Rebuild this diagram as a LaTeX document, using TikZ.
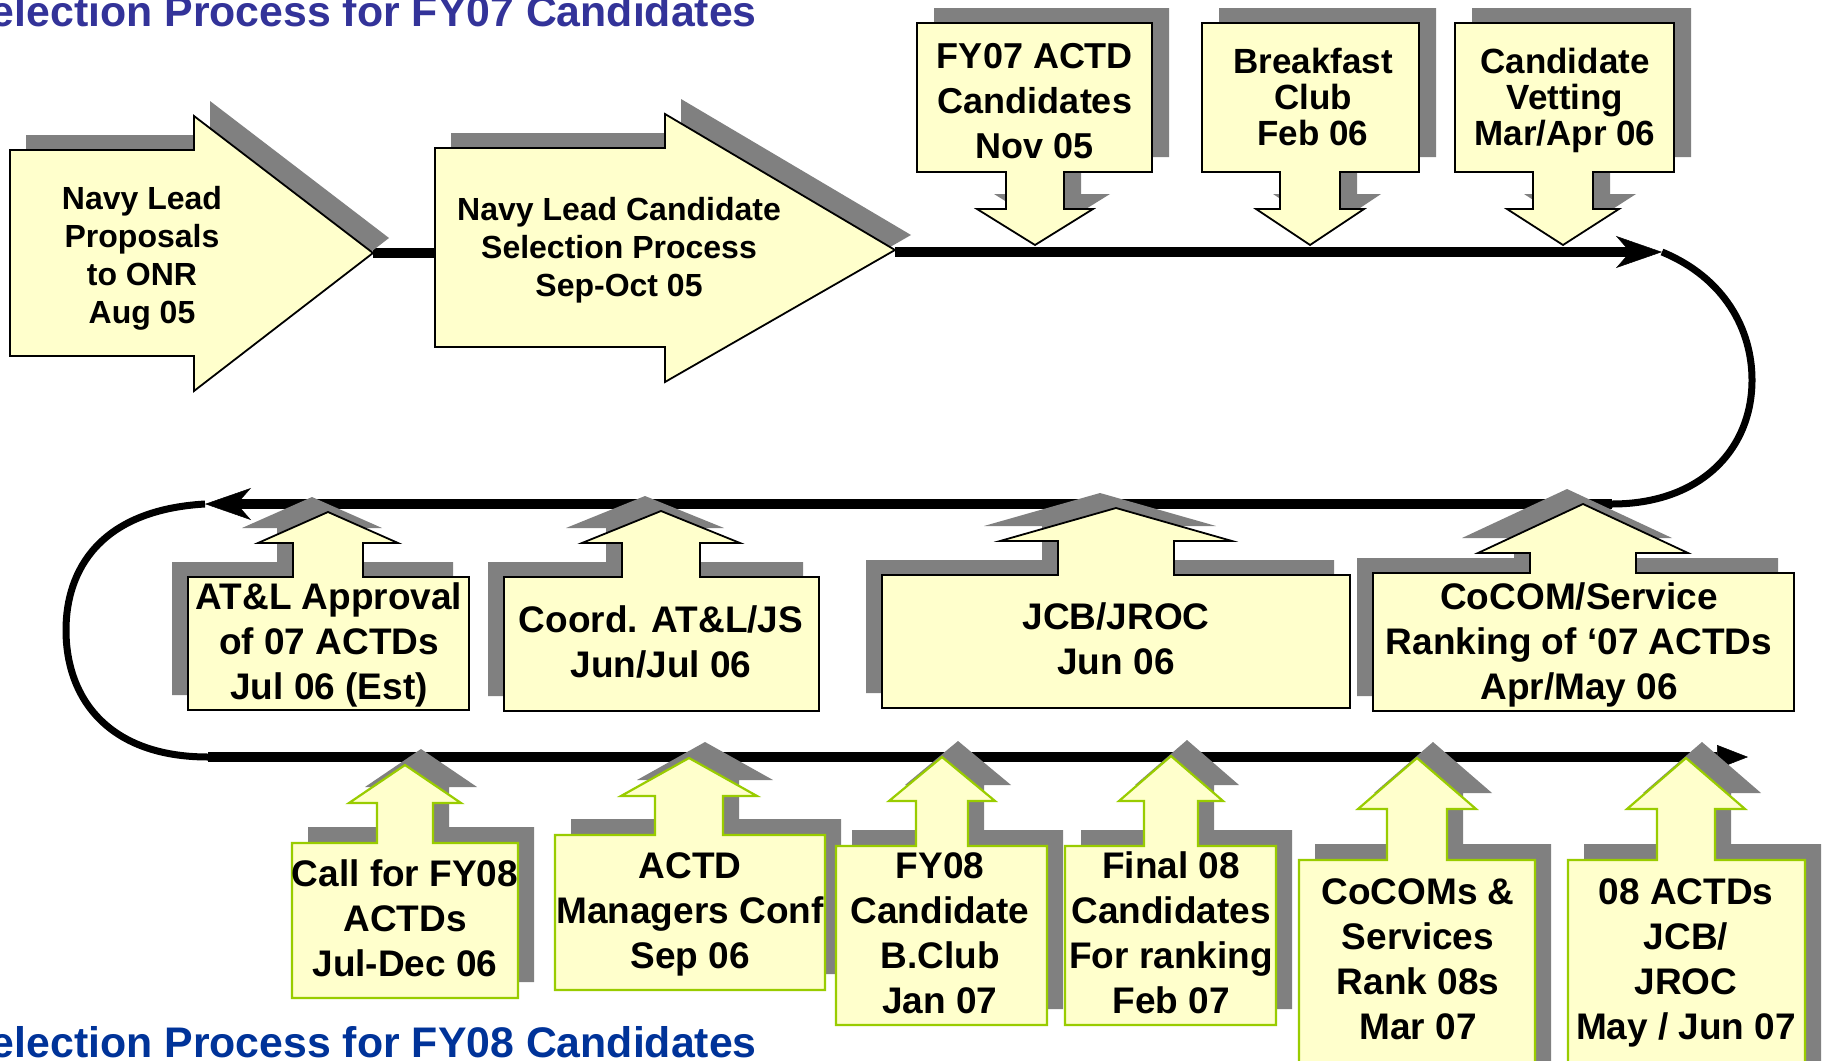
\documentclass[tikz,border=0pt]{standalone}
\usepackage{fontspec}
\setmainfont{Liberation Sans}
\usetikzlibrary{arrows.meta}
\definecolor{boxfill}{HTML}{FFFFCC}
\definecolor{shade}{HTML}{808080}
\definecolor{lime}{HTML}{99CC00}
\definecolor{titleA}{HTML}{333399}
\definecolor{titleB}{HTML}{003399}
% L T R B cx stemhalf headhalf headbase tip
\newcommand\upcallout[9]{(#1,#2) -- ({#5-#6},#2) -- ({#5-#6},#8) -- ({#5-#7},#8) -- (#5,#9) -- ({#5+#7},#8) -- ({#5+#6},#8) -- ({#5+#6},#2) -- (#3,#2) -- (#3,#4) -- (#1,#4) -- cycle}
\newcommand\downcallout[9]{(#1,#2) -- (#3,#2) -- (#3,#4) -- ({#5+#6},#4) -- ({#5+#6},#8) -- ({#5+#7},#8) -- (#5,#9) -- ({#5-#7},#8) -- ({#5-#6},#8) -- ({#5-#6},#4) -- (#1,#4) -- cycle}
\tikzset{
  flow/.style={line width=10pt},
  curvy/.style={line width=7pt},
  shadowfill/.style={fill=shade, draw=none},
  blackbox/.style={fill=boxfill, draw=black, line width=1.8pt, line join=miter},
  limebox/.style={fill=boxfill, draw=lime, line width=2.2pt, line join=miter},
  txtbig/.style={font=\bfseries\fontsize{32}{38}\selectfont, align=center, inner sep=0pt},
  txtwide/.style={font=\bfseries\fontsize{36}{45}\selectfont, align=center, inner sep=0pt},
  txttight/.style={font=\bfseries\fontsize{35}{36}\selectfont, align=center, inner sep=0pt},
  txtrow/.style={font=\bfseries\fontsize{37}{45}\selectfont, align=center, inner sep=0pt},
  titletxt/.style={font=\bfseries\fontsize{42.8}{50}\selectfont, inner sep=0pt, anchor=base east},
  opentip/.style={-{Stealth[length=46pt,width=32pt,inset=14pt,line width=0.5pt]}},
  solidtip/.style={-{Triangle[length=31pt,width=24pt,line width=0.5pt]}}
}
\begin{document}
\begin{tikzpicture}[x=1pt,y=-1pt]
\clip (0,0) rectangle (1830,1060);
\fill[white] (0,0) rectangle (1830,1060);

% titles
\node[titletxt, text=titleA] (title1) at (757,27) {Selection Process for FY07 Candidates};
\node[titletxt, text=titleB] (title2) at (757,1057) {Selection Process for FY08 Candidates};

% path coordinates
\coordinate (a1tip) at (373,253);
\coordinate (a2in) at (435,253);
\coordinate (a2tip) at (895,252);
\coordinate (t1) at (1662,252);
\coordinate (rr) at (1752,380);
\coordinate (r2s) at (1612,504);
\coordinate (r2e) at (205,504);
\coordinate (ll) at (66,630);
\coordinate (r3s) at (208,757);
\coordinate (r3e) at (1748,757);

% connectors
\draw[flow] (a1tip) -- (a2in);
\draw[flow, opentip] (a2tip) -- (t1);
\draw[curvy] (t1) .. controls (1725,278) and (1752,330) .. (rr) .. controls (1752,450) and (1700,504) .. (r2s);
\draw[flow, opentip] (r2s) -- (r2e);
\draw[curvy] (r2e) .. controls (100,510) and (66,570) .. (ll) .. controls (66,700) and (110,757) .. (r3s);
\draw[flow, solidtip] (r3s) -- (r3e);

% big arrows
\begin{scope}[shift={(16,-15)}]
  \fill[shadowfill] (10,150) -- (194,150) -- (194,116) -- (373,253) -- (194,391) -- (194,356) -- (10,356) -- cycle;
  \fill[shadowfill] (435,148) -- (665,148) -- (665,114) -- (895,250) -- (665,382) -- (665,347) -- (435,347) -- cycle;
\end{scope}
\draw[blackbox] (10,150) -- (194,150) -- (194,116) -- (373,253) -- (194,391) -- (194,356) -- (10,356) -- cycle;
\draw[blackbox] (435,148) -- (665,148) -- (665,114) -- (895,250) -- (665,382) -- (665,347) -- (435,347) -- cycle;
\node[txtbig] (navy1) at (142,258) {Navy Lead\\Proposals\\to ONR\\Aug 05};
\node[txtbig] (navy2) at (619,250) {Navy Lead Candidate\\Selection Process\\Sep-Oct 05};

% row 1 (down callouts)
\begin{scope}[shift={(17,-15)}]
  \fill[shadowfill] \downcallout{917}{23}{1152}{172}{1035}{29}{58}{209}{245};
  \fill[shadowfill] \downcallout{1202}{23}{1419}{172}{1310}{30}{54}{209}{245};
  \fill[shadowfill] \downcallout{1455}{23}{1674}{172}{1563}{30}{56}{209}{245};
\end{scope}
\draw[blackbox] \downcallout{917}{23}{1152}{172}{1035}{29}{58}{209}{245};
\draw[blackbox] \downcallout{1202}{23}{1419}{172}{1310}{30}{54}{209}{245};
\draw[blackbox] \downcallout{1455}{23}{1674}{172}{1563}{30}{56}{209}{245};
\node[txtwide] (fy07) at (1035,101) {FY07 ACTD\\Candidates\\Nov 05};
\node[txttight] (bclub) at (1313,97) {Breakfast\\Club\\Feb 06};
\node[txttight] (vet) at (1565,100) {Candidate\\Vetting\\Mar/Apr 06};

% row 2 (up callouts, shadow up-left)
\begin{scope}[shift={(-16,-15)}]
  \fill[shadowfill] \upcallout{188}{577}{469}{710}{328}{35}{70}{543}{512};
  \fill[shadowfill] \upcallout{504}{577}{819}{711}{661}{39}{79}{543}{511};
  \fill[shadowfill] \upcallout{882}{575}{1350}{708}{1116}{58}{116}{541}{508};
  \fill[shadowfill] \upcallout{1373}{573}{1794}{711}{1583}{53}{105}{553}{504};
\end{scope}
\draw[blackbox] \upcallout{188}{577}{469}{710}{328}{35}{70}{543}{512};
\draw[blackbox] \upcallout{504}{577}{819}{711}{661}{39}{79}{543}{511};
\draw[blackbox] \upcallout{882}{575}{1350}{708}{1116}{58}{116}{541}{508};
\draw[blackbox] \upcallout{1373}{573}{1794}{711}{1583}{53}{105}{553}{504};
\node[txtrow] (atl) at (329,645) {AT\&L Approval\\of 07 ACTDs\\Jul 06 (Est)};
\node[txtrow] (coord) at (661,642) {Coord. AT\&L/JS\\Jun/Jul 06};
\node[txtrow] (jcb) at (1116,639) {JCB/JROC\\Jun 06};
\node[txtrow] (cocom) at (1579,645) {CoCOM/Service\\Ranking of ‘07 ACTDs\\Apr/May 06};

% row 3 (up callouts, lime border, shadow up-right)
\begin{scope}[shift={(16,-16)}]
  \fill[shadowfill] \upcallout{292}{843}{518}{998}{405}{28}{56}{803}{765};
  \fill[shadowfill] \upcallout{555}{835}{825}{990}{689}{34}{68}{796}{758};
  \fill[shadowfill] \upcallout{836}{846}{1047}{1025}{942}{26}{53}{801}{757};
  \fill[shadowfill] \upcallout{1065}{846}{1276}{1025}{1171}{27}{52}{801}{756};
  \fill[shadowfill] \upcallout{1299}{860}{1535}{1090}{1417}{30}{59}{809}{758};
  \fill[shadowfill] \upcallout{1568}{860}{1805}{1090}{1686}{29}{59}{809}{758};
\end{scope}
\draw[limebox] \upcallout{292}{843}{518}{998}{405}{28}{56}{803}{765};
\draw[limebox] \upcallout{555}{835}{825}{990}{689}{34}{68}{796}{758};
\draw[limebox] \upcallout{836}{846}{1047}{1025}{942}{26}{53}{801}{757};
\draw[limebox] \upcallout{1065}{846}{1276}{1025}{1171}{27}{52}{801}{756};
\draw[limebox] \upcallout{1299}{860}{1535}{1090}{1417}{30}{59}{809}{758};
\draw[limebox] \upcallout{1568}{860}{1805}{1090}{1686}{29}{59}{809}{758};
\node[txtrow] (call) at (405,918) {Call for FY08\\ACTDs\\Jul-Dec 06};
\node[txtrow] (mgr) at (690,914) {ACTD\\Managers Conf\\Sep 06};
\node[txtrow] (fy08) at (940,933) {FY08\\Candidate\\B.Club\\Jan 07};
\node[txtrow] (final) at (1171,933) {Final 08\\Candidates\\For ranking\\Feb 07};
\node[txtrow] (rank) at (1418,959) {CoCOMs \&\\Services\\Rank 08s\\Mar 07};
\node[txtrow] (jroc) at (1686,963) {08 ACTDs\\JCB/\\JROC\\May / Jun 07};
\end{tikzpicture}
\end{document}
